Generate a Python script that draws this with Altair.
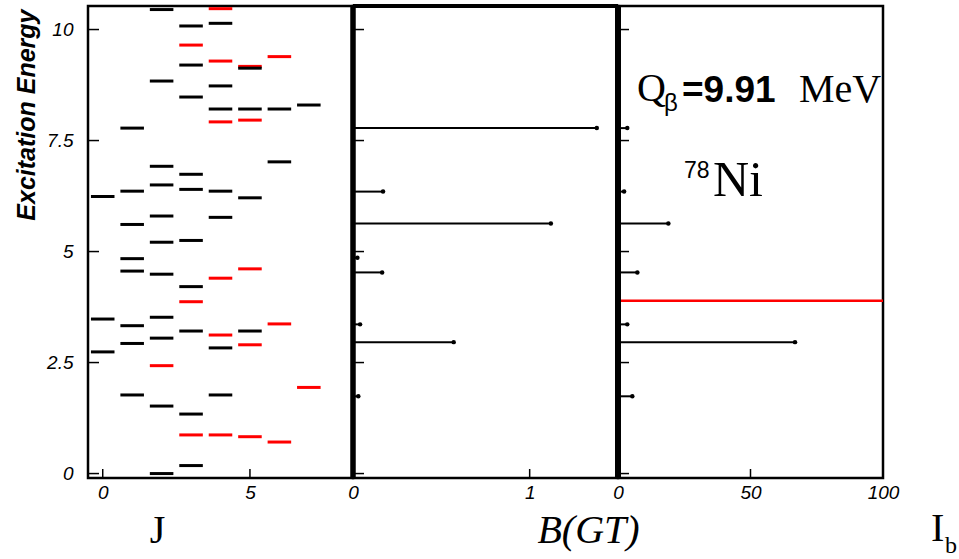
import altair as alt
import pandas as pd

# ---------------- data ----------------
LEVEL_J = [0, 0, 0,
           1, 1, 1, 1, 1, 1, 1, 1,
           2, 2, 2, 2, 2, 2, 2, 2, 2, 2, 2, 2,
           3, 3, 3, 3, 3, 3, 3, 3, 3, 3, 3, 3, 3,
           4, 4, 4, 4, 4, 4, 4, 4, 4, 4, 4, 4, 4,
           5, 5, 5, 5, 5, 5, 5, 5, 5,
           6, 6, 6, 6, 6,
           7, 7]
LEVEL_E = [6.24, 3.48, 2.74,
           7.78, 6.36, 5.61, 4.84, 4.56, 3.33, 2.93, 1.77,
           10.45, 8.84, 6.92, 6.50, 5.80, 5.21, 4.49, 3.52, 3.05, 2.43, 1.52, 0.0,
           10.08, 9.65, 9.20, 8.48, 6.74, 6.40, 5.25, 4.21, 3.87, 3.21, 1.34, 0.87, 0.18,
           10.47, 10.14, 9.29, 8.73, 8.21, 7.92, 6.36, 5.77, 4.40, 3.12, 2.83, 1.77, 0.87,
           9.17, 9.13, 8.21, 7.96, 6.21, 4.61, 3.21, 2.90, 0.83,
           9.39, 8.21, 7.02, 3.37, 0.71,
           8.30, 1.94]
LEVEL_PARITY = ["+", "+", "+",
                "+", "+", "+", "+", "+", "+", "+", "+",
                "+", "+", "+", "+", "+", "+", "+", "+", "+", "-", "+", "+",
                "+", "-", "+", "+", "+", "+", "+", "+", "-", "+", "+", "-", "+",
                "-", "+", "-", "+", "+", "-", "+", "+", "-", "-", "+", "+", "-",
                "-", "+", "+", "-", "+", "-", "+", "-", "-",
                "-", "+", "+", "-", "-",
                "+", "-"]

BGT_E = [7.78, 6.35, 5.63, 4.86, 4.53, 3.36, 2.96, 1.74]
BGT_VAL = [1.38, 0.17, 1.12, 0.025, 0.165, 0.04, 0.57, 0.03]
IB_E = [7.78, 6.35, 5.63, 4.86, 4.53, 3.36, 2.96, 1.74]
IB_VAL = [3.5, 2.3, 19.0, 0.3, 7.3, 3.5, 66.8, 5.4]
SN_E = [3.89]
SN_FROM = [0]
SN_TO = [100]

Y_TICKS = [0, 2.5, 5, 7.5, 10]
J_TICKS = [0, 5]
BGT_TICKS = [0, 1]
IB_TICKS = [0, 50, 100]
Y_MIN, Y_MAX = -0.1, 10.53

Y_TITLE = "Excitation Energy"
J_TITLE = "J"
BGT_TITLE = "B(GT)"
IB_MAIN, IB_SUB = "I", "b"
Q_MAIN, Q_SUB, Q_VAL, Q_UNIT = "Q", "β", "=9.91", "MeV"
NUC_MASS, NUC_SYM = "78", "Ni"

# ---------------- layout ----------------
W, H = 265, 472
SERIF = "Liberation Serif"
SANS = "Liberation Sans"

yscale = alt.Scale(domain=[Y_MIN, Y_MAX], nice=False, zero=False)
jscale = alt.Scale(domain=[-0.5, 8.5], nice=False, zero=False)
bscale = alt.Scale(domain=[0, 1.5], nice=False, zero=False)
iscale = alt.Scale(domain=[0, 100], nice=False, zero=False)

lab = dict(labelFont=SANS, labelFontStyle="italic", labelFontSize=19, labelColor="black",
           ticks=False, domain=False, grid=False, labelFlush=False,
           labelExpr="'' + datum.value")


def xaxis(values, title=None, tx=0):
    kw = dict(values=values, labelPadding=5, **lab)
    if title is None:
        return alt.Axis(title=None, **kw)
    return alt.Axis(title=title, titleX=tx, titleY=64, titleAlign="center",
                    titleBaseline="alphabetic", titleFont=SERIF, titleFontSize=40,
                    titleFontWeight="normal", titleFontStyle="italic" if title == BGT_TITLE else "normal",
                    titleColor="black", **kw)


yaxis = alt.Axis(values=Y_TICKS, labelPadding=15, title=Y_TITLE,
                 titleFont=SANS, titleFontSize=25, titleFontWeight="bold", titleFontStyle="italic",
                 titleColor="black", titleAngle=270, titleAnchor="end", titleAlign="right",
                 titleBaseline="alphabetic", titleX=-54, titleY=3, **lab)

jx = xaxis(J_TICKS, J_TITLE, 69)
bx = xaxis(BGT_TICKS, BGT_TITLE, 235)
ix = xaxis(IB_TICKS)


def yticks(axis):
    return alt.Chart(pd.DataFrame({"v": Y_TICKS})).mark_rule(color="black", strokeWidth=1.5).encode(
        y=alt.Y("v:Q", scale=yscale, axis=axis), x=alt.value(0), x2=alt.value(11))


def xticks(vals, scale, axis):
    return alt.Chart(pd.DataFrame({"v": vals})).mark_rule(color="black", strokeWidth=1.5).encode(
        x=alt.X("v:Q", scale=scale, axis=axis), y=alt.value(H), y2=alt.value(H - 9))


def vsep(scale, width, axis):
    # thick vertical frame line at the panel's x = 0
    return alt.Chart(pd.DataFrame({"a": [0]})).mark_rule(color="black", strokeWidth=width).encode(
        x=alt.X("a:Q", scale=scale, axis=axis), y=alt.value(0), y2=alt.value(H))


def txt(s, x, y, size, font, weight="normal", style="normal"):
    return alt.Chart(pd.DataFrame({"t": [s]})).mark_text(
        align="left", baseline="alphabetic", font=font, fontSize=size, fontWeight=weight,
        fontStyle=style, color="black").encode(text="t:N", x=alt.value(x), y=alt.value(y))


# ---------------- left panel: levels ----------------
levels = pd.DataFrame({"J": LEVEL_J, "E": LEVEL_E, "parity": LEVEL_PARITY})
lev = alt.Chart(levels).transform_calculate(
    j0="datum.J - 0.4", j1="datum.J + 0.4"
).mark_rule(strokeWidth=3).encode(
    x=alt.X("j0:Q", scale=jscale, axis=jx),
    x2="j1:Q",
    y=alt.Y("E:Q", scale=yscale, axis=yaxis),
    color=alt.Color("parity:N", scale=alt.Scale(domain=["+", "-"], range=["black", "#ff0000"]), legend=None),
)
left = alt.layer(lev, yticks(yaxis), xticks(J_TICKS, jscale, jx)).properties(width=W, height=H)

# ---------------- middle panel: B(GT) ----------------
bgt = pd.DataFrame({"E": BGT_E, "v": BGT_VAL})
bgt_lines = alt.Chart(bgt).transform_calculate(zero="0").mark_rule(color="black", strokeWidth=2).encode(
    x=alt.X("v:Q", scale=bscale, axis=bx),
    x2="zero:Q",
    y=alt.Y("E:Q", scale=yscale, axis=None),
)
bgt_dots = alt.Chart(bgt).mark_circle(color="black", size=20, opacity=1).encode(
    x=alt.X("v:Q", scale=bscale, axis=bx), y=alt.Y("E:Q", scale=yscale, axis=None))
mid_top = alt.Chart(pd.DataFrame({"e": [Y_MAX]})).mark_rule(color="black", strokeWidth=4).encode(
    y=alt.Y("e:Q", scale=yscale, axis=None), x=alt.value(0), x2=alt.value(W))
mid = alt.layer(bgt_lines, bgt_dots, yticks(None), xticks(BGT_TICKS, bscale, bx),
                vsep(bscale, 5.5, bx), mid_top).properties(width=W, height=H)

# ---------------- right panel: I_b ----------------
ib = pd.DataFrame({"E": IB_E, "v": IB_VAL})
ib_lines = alt.Chart(ib).transform_calculate(zero="0").mark_rule(color="black", strokeWidth=2).encode(
    x=alt.X("v:Q", scale=iscale, axis=ix),
    x2="zero:Q",
    y=alt.Y("E:Q", scale=yscale, axis=None),
)
ib_dots = alt.Chart(ib).mark_circle(color="black", size=20, opacity=1).encode(
    x=alt.X("v:Q", scale=iscale, axis=ix), y=alt.Y("E:Q", scale=yscale, axis=None))
sn = pd.DataFrame({"E": SN_E, "a": SN_FROM, "b": SN_TO})
sn_line = alt.Chart(sn).mark_rule(color="#ff0000", strokeWidth=2.5).encode(
    x=alt.X("a:Q", scale=iscale, axis=ix), x2="b:Q", y=alt.Y("E:Q", scale=yscale, axis=None))

texts = [
    txt(Q_MAIN, 19, 95, 40, SERIF),
    txt(Q_SUB, 46, 105, 24, SANS),
    txt(Q_VAL, 64, 96, 37, SANS, weight="bold"),
    txt(Q_UNIT, 181, 96, 40, SERIF),
    txt(NUC_MASS, 66, 172, 23, SANS),
    txt(NUC_SYM, 95, 190, 50, SERIF),
    txt(IB_MAIN, 313, 535, 40, SERIF),
    txt(IB_SUB, 327, 547, 24, SERIF),
]
right = alt.layer(ib_lines, ib_dots, sn_line, yticks(None), xticks(IB_TICKS, iscale, ix),
                  vsep(iscale, 6, ix), *texts).properties(width=W, height=H)

chart = alt.hconcat(left, mid, right, spacing=0, bounds="flush").properties(
    padding={"left": 12, "top": 1, "right": 0, "bottom": 0}
).configure_view(stroke="black", strokeWidth=2.5)

chart.save("out.html", embed_options={"renderer": "svg", "actions": False})
